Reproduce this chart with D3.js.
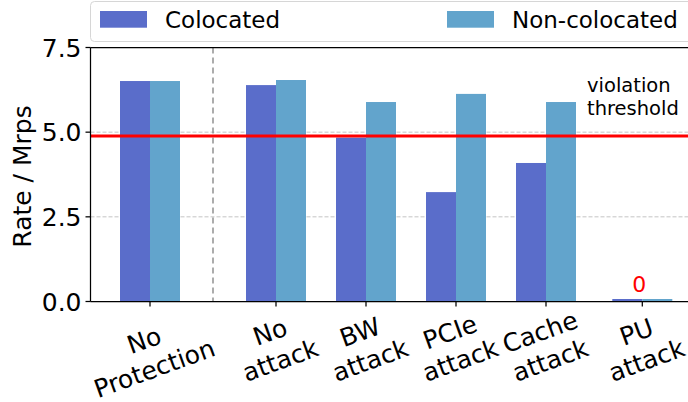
<!DOCTYPE html>
<html>
<head>
<meta charset="utf-8">
<script src="https://cdn.jsdelivr.net/npm/d3@7"></script>
<style>
  html, body { margin: 0; padding: 0; background: #fff; }
  svg { display: block; font-family: "DejaVu Sans", sans-serif; }
</style>
</head>
<body>
<svg id="chart" width="688" height="402"></svg>
<script>
// Request rate per scenario, in Mrps
const categories = ["No\nProtection", "No\nattack", "BW\nattack", "PCIe\nattack", "Cache\nattack", "PU\nattack"];
const colocated = [6.51, 6.39, 4.84, 3.23, 4.09, 0];
const nonColocated = [6.51, 6.54, 5.89, 6.13, 5.89, 0];
const seriesNames = ["Colocated", "Non-colocated"];
const yTicks = [0.0, 2.5, 5.0, 7.5];
const threshold = 4.89;
const thresholdLabel = ["violation", "threshold"];
const zeroLabel = "0";

// Group centres along the x axis (the first group is set apart from the rest)
const groupPos = [0, 1.4, 2.4, 3.4, 4.4, 5.47];

const colors = ["#5a6dca", "#62a4cc"];
const plot = { left: 90.5, top: 47.5, bottom: 301.5, right: 700 };
const barW = 1 / 3;  // in x-units

const svg = d3.select("#chart");

const x = d3.scaleLinear().domain([0, 1]).range([150, 240]);
const y = d3.scaleLinear().domain([0, 7.5]).range([plot.bottom, plot.top]);

// horizontal grid
svg.append("g").selectAll("line").data(yTicks).join("line")
  .attr("x1", plot.left).attr("x2", plot.right)
  .attr("y1", d => y(d)).attr("y2", d => y(d))
  .attr("stroke", "#c4c4c4").attr("stroke-width", 1)
  .attr("stroke-dasharray", "4,2");

// separator between the unprotected baseline and the attack scenarios
const sepX = (x(groupPos[0]) + x(groupPos[1])) / 2;
svg.append("line")
  .attr("x1", sepX).attr("x2", sepX)
  .attr("y1", plot.top).attr("y2", plot.bottom)
  .attr("stroke", "#808080").attr("stroke-width", 1.3)
  .attr("stroke-dasharray", "6,4");

// bars (a minimum visible height keeps zero-valued bars visible)
const minBarPx = 2.5;
const series = [colocated, nonColocated];
series.forEach((vals, si) => {
  svg.append("g").selectAll("rect").data(vals).join("rect")
    .attr("x", (d, i) => x(groupPos[i] + (si - 1) * barW))
    .attr("width", x(barW) - x(0))
    .attr("y", d => Math.min(y(d), plot.bottom - minBarPx))
    .attr("height", d => Math.max(plot.bottom - y(d), minBarPx))
    .attr("fill", colors[si]);
});

// threshold line
svg.append("line")
  .attr("x1", plot.left).attr("x2", plot.right)
  .attr("y1", y(threshold)).attr("y2", y(threshold))
  .attr("stroke", "#ff0000").attr("stroke-width", 3);

const tl = svg.append("text")
  .attr("x", 587).attr("y", 92)
  .attr("font-size", 19.5).attr("fill", "#000");
thresholdLabel.forEach((t, i) => {
  tl.append("tspan").attr("x", 587).attr("dy", i === 0 ? 0 : 23.4).text(t);
});

// label for the zero-valued PU group
const puIdx = categories.length - 1;
svg.append("text")
  .attr("x", x(groupPos[puIdx]) - 3)
  .attr("y", y(colocated[puIdx]) - 10)
  .attr("text-anchor", "middle")
  .attr("font-size", 22).attr("fill", "#ff0000")
  .text(zeroLabel);

// spines
svg.append("line").attr("x1", plot.left).attr("x2", plot.right)
  .attr("y1", plot.bottom).attr("y2", plot.bottom)
  .attr("stroke", "#000").attr("stroke-width", 1.25);
svg.append("line").attr("x1", plot.left).attr("x2", plot.right)
  .attr("y1", plot.top).attr("y2", plot.top)
  .attr("stroke", "#000").attr("stroke-width", 1.25);
svg.append("line").attr("x1", plot.left).attr("x2", plot.left)
  .attr("y1", plot.top).attr("y2", plot.bottom)
  .attr("stroke", "#000").attr("stroke-width", 1.25);

// y axis ticks and labels
const yAxis = svg.append("g");
yAxis.selectAll("line").data(yTicks).join("line")
  .attr("x1", plot.left - 5).attr("x2", plot.left)
  .attr("y1", d => y(d)).attr("y2", d => y(d))
  .attr("stroke", "#000").attr("stroke-width", 1.25);
yAxis.selectAll("text").data(yTicks).join("text")
  .attr("x", plot.left - 9).attr("y", d => y(d))
  .attr("dy", "0.36em")
  .attr("text-anchor", "end").attr("font-size", 25)
  .text(d => d3.format(".1f")(d));

svg.append("text")
  .attr("transform", `translate(31,${(plot.top + plot.bottom) / 2 + 2}) rotate(-90)`)
  .attr("text-anchor", "middle").attr("font-size", 25)
  .text("Rate / Mrps");

// x ticks and rotated two-line labels
const fs = 25, lineGap = 30, rot = 20 * Math.PI / 180;
categories.forEach((c, i) => {
  const tx = x(groupPos[i]);
  svg.append("line")
    .attr("x1", tx).attr("x2", tx)
    .attr("y1", plot.bottom).attr("y2", plot.bottom + 5)
    .attr("stroke", "#000").attr("stroke-width", 1.25);
  const lines = c.split("\n");
  const g = svg.append("g");
  const t = g.append("text").attr("text-anchor", "middle").attr("font-size", fs);
  const blockH = lineGap * (lines.length - 1) + fs;
  lines.forEach((ln, k) => {
    t.append("tspan").attr("x", 0)
      .attr("y", -blockH / 2 + 0.76 * fs + k * lineGap)
      .text(ln);
  });
  const bw = d3.max(t.selectAll("tspan").nodes(), n => n.getComputedTextLength());
  const halfH = (bw / 2) * Math.sin(rot) + (blockH / 2) * Math.cos(rot);
  const cy = plot.bottom + 7.5 + halfH;
  g.attr("transform", `translate(${tx},${cy}) rotate(-20)`);
});

// legend
const lg = svg.append("g");
lg.append("rect")
  .attr("x", 90.5).attr("y", 1.5).attr("width", 620).attr("height", 40)
  .attr("rx", 4).attr("fill", "#fff").attr("fill-opacity", 0.8)
  .attr("stroke", "#d6d6d6").attr("stroke-width", 1);
const legendX = [100, 447];
seriesNames.forEach((n, i) => {
  lg.append("rect").attr("x", legendX[i]).attr("y", 11)
    .attr("width", 47).attr("height", 16.7).attr("fill", colors[i]);
  lg.append("text").attr("x", legendX[i] + 65).attr("y", 28)
    .attr("font-size", 23).attr("fill", "#000").text(n);
});
</script>
</body>
</html>
